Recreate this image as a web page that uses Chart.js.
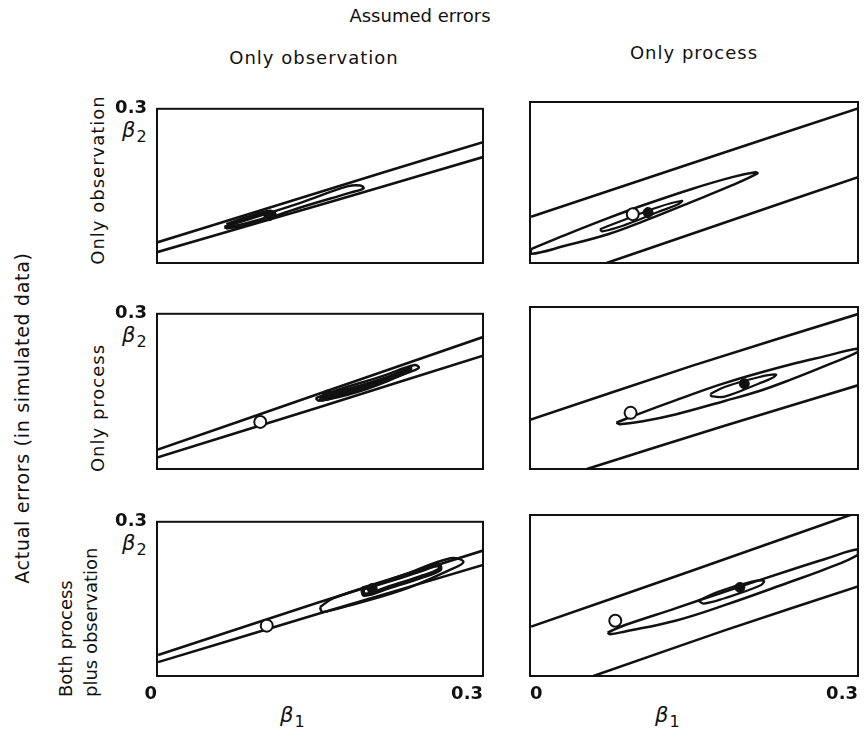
<!DOCTYPE html>
<html>
<head>
<meta charset="utf-8">
<script src="https://cdn.jsdelivr.net/npm/chart.js@4.4.0/dist/chart.umd.min.js"></script>
<style>
  body { margin: 0; width: 868px; height: 736px; position: relative; overflow: hidden; background: #fff; color: #111; font-family: "DejaVu Sans", sans-serif; }
  canvas { position: absolute; }
  .lbl { position: absolute; white-space: nowrap; font-size: 18px; }
  .mid { transform: translate(-50%, -50%); }
  .rot { transform: translate(-50%, -50%) rotate(-90deg); }
  .rotStart { transform-origin: 0 0; transform: rotate(-90deg); white-space: pre; line-height: 25px; }
  .beta { position: absolute; font-size: 21px; font-style: italic; }
  .beta sub { font-style: normal; font-size: 16px; vertical-align: -5px; margin-left: 1px; }
</style>
</head>
<body>
<div id="labels"></div>
<canvas id="c00"></canvas><canvas id="c01"></canvas>
<canvas id="c10"></canvas><canvas id="c11"></canvas>
<canvas id="c20"></canvas><canvas id="c21"></canvas>
<script>
// labels
const topTitle = 'Assumed errors';
const sideTitle = 'Actual errors (in simulated data)';
const assumedLabels = ['Only observation', 'Only process'];
const actualLabels = ['Only observation', 'Only process', 'Both process\nplus observation'];
const xTickValues = [0, 0.3];
const xTickLabels = ['0', '0.3'];
const yTickValues = [0.3];
const yTickLabels = ['0.3'];

// [beta1, beta2] pairs
// actual: only observation / assumed: only observation
const obsObsUpper = [[0.000, 0.040], [0.101, 0.106], [0.208, 0.176], [0.300, 0.235]];
const obsObsLower = [[0.000, 0.021], [0.101, 0.083], [0.208, 0.149], [0.300, 0.206]];
const obsObsMid = [[0.062, 0.070], [0.086, 0.086], [0.132, 0.117], [0.175, 0.149], [0.187, 0.151], [0.190, 0.145], [0.178, 0.137], [0.132, 0.108], [0.086, 0.076], [0.064, 0.068], [0.062, 0.070]];
const obsObsInner = [[0.064, 0.074], [0.083, 0.088], [0.104, 0.100], [0.108, 0.094], [0.086, 0.078], [0.065, 0.069], [0.064, 0.074]];
const obsObsTrue = [];
const obsObsEst = [[0.103, 0.092]];

// actual: only observation / assumed: only process
const obsProcUpper = [[0.001, 0.086], [0.148, 0.186], [0.300, 0.288]];
const obsProcLower = [[0.070, 0.000], [0.185, 0.080], [0.300, 0.160]];
const obsProcMid = [[0.001, 0.026], [0.032, 0.052], [0.072, 0.084], [0.104, 0.108], [0.148, 0.138], [0.185, 0.160], [0.206, 0.169], [0.208, 0.167], [0.185, 0.145], [0.148, 0.114], [0.104, 0.078], [0.072, 0.054], [0.032, 0.032], [0.001, 0.017], [0.001, 0.026]];
const obsProcInner = [[0.064, 0.063], [0.087, 0.081], [0.117, 0.104], [0.139, 0.116], [0.136, 0.110], [0.117, 0.095], [0.087, 0.071], [0.066, 0.059], [0.064, 0.063]];
const obsProcTrue = [[0.094, 0.091]];
const obsProcEst = [[0.108, 0.094]];

// actual: only process / assumed: only observation
const procObsUpper = [[0.000, 0.037], [0.147, 0.144], [0.300, 0.255]];
const procObsLower = [[0.000, 0.022], [0.147, 0.118], [0.300, 0.219]];
const procObsMid = [[0.146, 0.137], [0.165, 0.152], [0.208, 0.180], [0.237, 0.201], [0.241, 0.196], [0.236, 0.190], [0.208, 0.169], [0.165, 0.139], [0.149, 0.132], [0.146, 0.137]];
const procObsInner = [[0.150, 0.138], [0.184, 0.158], [0.214, 0.178], [0.233, 0.195], [0.231, 0.190], [0.214, 0.173], [0.184, 0.150], [0.152, 0.134], [0.150, 0.138]];
const procObsTrue = [[0.095, 0.091]];
const procObsEst = [[0.157, 0.143]];

// actual: only process / assumed: only process
const procProcUpper = [[0.000, 0.091], [0.148, 0.191], [0.300, 0.287]];
const procProcLower = [[0.052, 0.000], [0.178, 0.080], [0.300, 0.155]];
const procProcMid = [[0.079, 0.086], [0.102, 0.104], [0.133, 0.127], [0.178, 0.159], [0.239, 0.194], [0.270, 0.209], [0.300, 0.223], [0.300, 0.217], [0.270, 0.191], [0.239, 0.166], [0.209, 0.144], [0.178, 0.126], [0.133, 0.101], [0.102, 0.088], [0.082, 0.083], [0.079, 0.086]];
const procProcInner = [[0.165, 0.139], [0.178, 0.152], [0.209, 0.170], [0.225, 0.175], [0.221, 0.168], [0.209, 0.158], [0.178, 0.134], [0.166, 0.135], [0.165, 0.139]];
const procProcTrue = [[0.092, 0.104]];
const procProcEst = [[0.196, 0.158]];

// actual: both / assumed: only observation
const bothObsUpper = [[0.001, 0.041], [0.147, 0.142], [0.300, 0.244]];
const bothObsLower = [[0.001, 0.027], [0.147, 0.120], [0.300, 0.216]];
const bothObsMid = [[0.150, 0.134], [0.162, 0.151], [0.224, 0.194], [0.270, 0.229], [0.282, 0.222], [0.270, 0.207], [0.224, 0.166], [0.162, 0.129], [0.152, 0.125], [0.150, 0.134]];
const bothObsInner = [[0.189, 0.170], [0.214, 0.186], [0.242, 0.205], [0.259, 0.216], [0.260, 0.207], [0.242, 0.192], [0.214, 0.173], [0.191, 0.158], [0.189, 0.170]];
const bothObsTrue = [[0.101, 0.098]];
const bothObsEst = [[0.198, 0.170]];

// actual: both / assumed: only process
const bothProcUpper = [[0.001, 0.092], [0.148, 0.196], [0.300, 0.305]];
const bothProcLower = [[0.058, 0.000], [0.178, 0.085], [0.300, 0.167]];
const bothProcMid = [[0.071, 0.081], [0.087, 0.095], [0.133, 0.126], [0.178, 0.157], [0.239, 0.198], [0.270, 0.218], [0.300, 0.236], [0.300, 0.226], [0.270, 0.199], [0.239, 0.176], [0.178, 0.132], [0.133, 0.103], [0.087, 0.083], [0.073, 0.078], [0.071, 0.081]];
const bothProcInner = [[0.154, 0.140], [0.172, 0.157], [0.203, 0.176], [0.214, 0.177], [0.210, 0.168], [0.178, 0.145], [0.159, 0.135], [0.154, 0.140]];
const bothProcTrue = [[0.078, 0.103]];
const bothProcEst = [[0.192, 0.165]];

const INK = '#111';
const colLeft = [157, 530], colWidth = [326, 328];
const rowTop = [102, 307, 515], rowHeight = [161, 162, 161];
const AXW = 60, AXH = 44, PADT = 14, PADR = 10;

const toXY = arr => arr.map(p => ({ x: p[0], y: p[1] }));

const frame = {
  id: 'frame',
  afterDatasetsDraw(chart) {
    const a = chart.chartArea, ctx = chart.ctx;
    ctx.save();
    ctx.strokeStyle = INK;
    ctx.lineWidth = 2;
    ctx.strokeRect(a.left, a.top, a.right - a.left, a.bottom - a.top);
    ctx.restore();
  }
};

function makePanel(row, col, upper, lower, mid, inner, truth, est, innerWidth) {
  const canvas = document.getElementById('c' + row + col);
  const w = colWidth[col] + AXW + PADR, h = rowHeight[row] + PADT + AXH;
  canvas.width = w; canvas.height = h;
  canvas.style.left = (colLeft[col] - AXW) + 'px';
  canvas.style.top = (rowTop[row] - PADT) + 'px';

  const line = (d, width, tension) => ({
    data: toXY(d), showLine: true, borderColor: INK, borderWidth: width,
    pointRadius: 0, tension: tension, fill: false
  });

  new Chart(canvas, {
    type: 'scatter',
    data: {
      datasets: [
        { data: toXY(est), pointRadius: 5, pointBackgroundColor: INK, pointBorderColor: INK, pointBorderWidth: 1 },
        { data: toXY(truth), pointRadius: 6, pointBackgroundColor: '#fff', pointBorderColor: INK, pointBorderWidth: 2 },
        line(inner, innerWidth, 0.4),
        line(mid, 2.5, 0.4),
        line(upper, 2.6, 0.2),
        line(lower, 2.6, 0.2)
      ]
    },
    options: {
      responsive: false,
      animation: false,
      events: [],
      layout: { padding: { top: PADT, right: PADR, left: 0, bottom: 0 } },
      plugins: { legend: { display: false }, tooltip: { enabled: false } },
      scales: {
        x: {
          type: 'linear', min: 0, max: 0.3,
          grid: { display: false, drawTicks: false },
          border: { display: false },
          afterBuildTicks: s => { s.ticks = xTickValues.map(v => ({ value: v })); },
          afterFit: s => { s.height = AXH; },
          ticks: {
            display: row === 2, padding: 8, color: INK,
            align: col === 0 ? 'end' : 'inner',
            font: { family: 'DejaVu Sans', size: 18, weight: 'bold' },
            callback: (v, i) => xTickLabels[i]
          }
        },
        y: {
          type: 'linear', min: 0, max: 0.3,
          grid: { display: false, drawTicks: false },
          border: { display: false },
          afterBuildTicks: s => { s.ticks = yTickValues.map(v => ({ value: v })); },
          afterFit: s => { s.width = AXW; },
          ticks: {
            display: col === 0, padding: 10, color: INK,
            font: { family: 'DejaVu Sans', size: 18, weight: 'bold' },
            callback: (v, i) => yTickLabels[i]
          }
        }
      }
    },
    plugins: [frame]
  });
}

makePanel(0, 0, obsObsUpper, obsObsLower, obsObsMid, obsObsInner, obsObsTrue, obsObsEst, 4);
makePanel(0, 1, obsProcUpper, obsProcLower, obsProcMid, obsProcInner, obsProcTrue, obsProcEst, 2.2);
makePanel(1, 0, procObsUpper, procObsLower, procObsMid, procObsInner, procObsTrue, procObsEst, 4);
makePanel(1, 1, procProcUpper, procProcLower, procProcMid, procProcInner, procProcTrue, procProcEst, 2.2);
makePanel(2, 0, bothObsUpper, bothObsLower, bothObsMid, bothObsInner, bothObsTrue, bothObsEst, 4.5);
makePanel(2, 1, bothProcUpper, bothProcLower, bothProcMid, bothProcInner, bothProcTrue, bothProcEst, 2.2);

// text
const box = document.getElementById('labels');
function addLabel(text, x, y, cls, style) {
  const d = document.createElement('div');
  d.className = 'lbl ' + cls;
  d.textContent = text;
  d.style.left = x + 'px';
  d.style.top = y + 'px';
  Object.assign(d.style, style || {});
  box.appendChild(d);
}
addLabel(topTitle, 420, 15, 'mid', { fontSize: '18px' });
addLabel(assumedLabels[0], 314, 57, 'mid', { fontSize: '18px', letterSpacing: '1px' });
addLabel(assumedLabels[1], 694, 52, 'mid', { fontSize: '18px', letterSpacing: '1px' });
addLabel(sideTitle, 22, 418, 'rot', { fontSize: '19px', letterSpacing: '0.7px' });
addLabel(actualLabels[0], 97, 180, 'rot', { fontSize: '18px', letterSpacing: '1px' });
addLabel(actualLabels[1], 97, 408, 'rot', { fontSize: '18px', letterSpacing: '1px' });
addLabel(actualLabels[2], 53, 697, 'rotStart', { fontSize: '18px' });

function addBeta(sub, x, y) {
  const d = document.createElement('div');
  d.className = 'beta';
  d.innerHTML = 'β<sub>' + sub + '</sub>';
  d.style.left = x + 'px';
  d.style.top = y + 'px';
  box.appendChild(d);
}
rowTop.forEach(t => addBeta('2', 122, t + 16));
addBeta('1', 280, 703);
addBeta('1', 655, 703);
</script>
</body>
</html>
